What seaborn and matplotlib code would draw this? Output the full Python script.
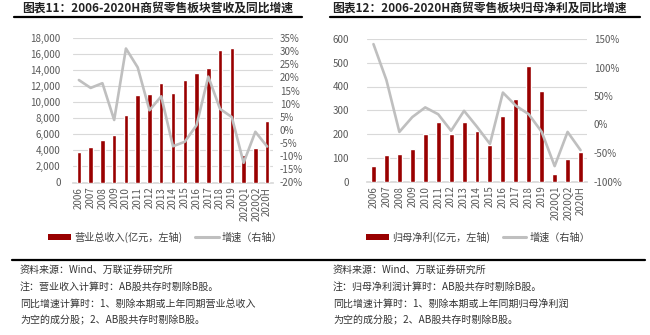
import matplotlib
matplotlib.use("Agg")
import matplotlib.pyplot as plt
import seaborn as sns
import pandas as pd
from matplotlib.lines import Line2D
from matplotlib.patches import Patch
from matplotlib.ticker import FuncFormatter, MultipleLocator

# ---------------- data ----------------
periods = ["2006", "2007", "2008", "2009", "2010", "2011", "2012", "2013", "2014",
           "2015", "2016", "2017", "2018", "2019", "2020Q1", "2020Q2", "2020H"]
revenue = [3800, 4450, 5350, 5900, 8450, 10900, 11000, 12400, 11200,
           12750, 13600, 14250, 16450, 16780, 3420, 4280, 7700]
revenue_growth = [19.0, 16.0, 17.8, 3.8, 31.0, 23.8, 7.5, 12.8, -6.2,
                  -4.5, 1.8, 20.3, 8.0, 4.9, -12.5, -0.7, -6.3]
profit = [65, 111, 114, 135, 202, 251, 202, 251, 214,
          153, 274, 347, 486, 380, 32, 93, 123]
profit_growth = [141, 78, -13, 13, 30, 18, -11, 24, -4,
                 -34, 56, 33, 18, -13, -73, -13, -45]

title_left = "图表11：2006-2020H商贸零售板块营收及同比增速"
title_right = "图表12：2006-2020H商贸零售板块归母净利及同比增速"
legend_left = ["营业总收入(亿元，左轴)", "增速（右轴）"]
legend_right = ["归母净利(亿元，左轴)", "增速（右轴）"]
notes_left = ["资料来源：Wind、万联证券研究所",
              "注：营业收入计算时：AB股共存时剔除B股。",
              "同比增速计算时：1、剔除本期或上年同期营业总收入",
              "为空的成分股；2、AB股共存时剔除B股。"]
notes_right = ["资料来源：Wind、万联证券研究所",
               "注：归母净利润计算时：AB股共存时剔除B股。",
               "同比增速计算时：1、剔除本期或上年同期归母净利润",
               "为空的成分股；2、AB股共存时剔除B股。"]

# ---------------- style ----------------
sns.set_theme(style="white")
plt.rcParams["font.family"] = ["Noto Sans CJK SC", "DejaVu Sans"]
plt.rcParams["axes.unicode_minus"] = False

BAR = "#990000"
LINE = "#BFBFBF"
GRID = "#D9D9D9"
TICK = "#595959"
W, H = 650, 335

fig = plt.figure(figsize=(6.5, 3.35), dpi=100)


def fx(px):
    return px / W


def fy(py):
    return (H - py) / H


def panel(rect, vals, growth, ylim, ystep, glim, gstep, fmt_left, lab, bar_w):
    ax = fig.add_axes(rect)
    df = pd.DataFrame({"period": periods, "value": vals, "growth": growth})
    sns.barplot(data=df, x="period", y="value", color=BAR, width=bar_w,
                saturation=1, ax=ax, zorder=3)
    ax.set_ylim(*ylim)
    ax.yaxis.set_major_locator(MultipleLocator(ystep))
    ax.yaxis.set_major_formatter(FuncFormatter(fmt_left))
    ax.grid(axis="y", color=GRID, lw=0.8, zorder=0)
    ax.set_axisbelow(True)
    ax.set_xlabel("")
    ax.set_ylabel("")
    ax.set_xlim(-0.5, len(periods) - 0.5)
    for s in ["top", "left", "right"]:
        ax.spines[s].set_visible(False)
    ax.spines["bottom"].set_color(GRID)
    ax.tick_params(axis="x", rotation=90, labelsize=7, colors=TICK, length=0, pad=3)
    ax.tick_params(axis="y", labelsize=7, colors=TICK, length=0, pad=lab)

    ax2 = ax.twinx()
    sns.lineplot(data=df, x="period", y="growth", color=LINE, lw=1.9,
                 sort=False, ax=ax2, zorder=4)
    ax2.set_ylim(*glim)
    ax2.yaxis.set_major_locator(MultipleLocator(gstep))
    ax2.yaxis.set_major_formatter(FuncFormatter(lambda v, p: f"{v:.0f}%"))
    ax2.set_ylabel("")
    ax2.set_xlabel("")
    for s in ax2.spines.values():
        s.set_visible(False)
    ax2.tick_params(axis="y", labelsize=7, colors=TICK, length=0, pad=5)
    ax2.grid(False)
    ax.set_xlim(-0.5, len(periods) - 0.5)
    return ax, ax2


axL, axL2 = panel([fx(73), fy(182.5), fx(200), (182.5 - 38) / H],
                  revenue, revenue_growth, (0, 18000), 2000, (-20, 35), 5,
                  lambda v, p: f"{v:,.0f}", 9, 0.38)
axR, axR2 = panel([fx(367), fy(181.5), fx(220), (181.5 - 39) / H],
                  profit, profit_growth, (0, 600), 100, (-100, 150), 50,
                  lambda v, p: f"{v:.0f}", 13, 0.38)


def legend(ax, labels, cx):
    handles = [Patch(facecolor=BAR, edgecolor="none"),
               Line2D([], [], color=LINE, lw=2.2)]
    ax.legend(handles, labels, loc="center", bbox_to_anchor=(fx(cx), fy(237)),
              bbox_transform=fig.transFigure, ncol=2, frameon=False,
              fontsize=7.3, handlelength=2.3, handleheight=0.55,
              handletextpad=0.3, columnspacing=1.3, labelcolor="#404040")


legend(axL, legend_left, 165)
legend(axR, legend_right, 478)

# titles and rules
fig.text(fx(22), fy(8.5), title_left, fontsize=8.5, fontweight="bold",
         color="#222222", va="center", ha="left")
fig.text(fx(332), fy(8.5), title_right, fontsize=8.5, fontweight="bold",
         color="#222222", va="center", ha="left")
fig.add_artist(Line2D([fx(14), fx(302)], [fy(16.8), fy(16.8)], color="black", lw=1.6,
                      transform=fig.transFigure))
fig.add_artist(Line2D([fx(330), fx(640)], [fy(16.8), fy(16.8)], color="black", lw=1.6,
                      transform=fig.transFigure))
fig.add_artist(Line2D([fx(12), fx(645)], [fy(260), fy(260)], color="black", lw=1.6,
                      transform=fig.transFigure))

for i, (a, b) in enumerate(zip(notes_left, notes_right)):
    yy = fy(270 + 16.8 * i)
    fig.text(fx(20), yy, a, fontsize=7.2, color="#333333", va="center", ha="left")
    fig.text(fx(333), yy, b, fontsize=7.2, color="#333333", va="center", ha="left")

fig.savefig("out.png", dpi=100, facecolor="white")
